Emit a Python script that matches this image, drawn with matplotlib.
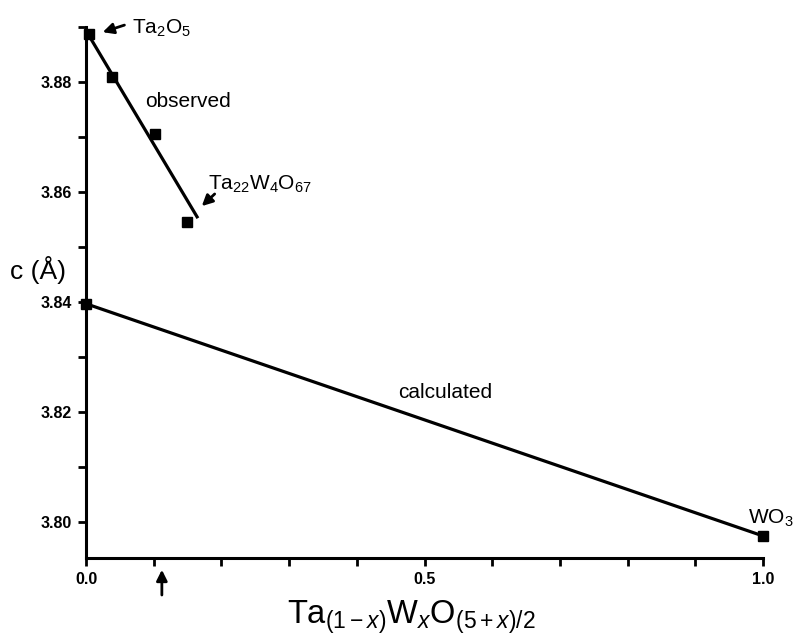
import matplotlib
matplotlib.use("Agg")
import matplotlib.pyplot as plt
from matplotlib.ticker import MultipleLocator, FixedLocator

plt.rcParams['font.family'] = ['Liberation Sans', 'DejaVu Sans']
plt.rcParams['mathtext.fontset'] = 'custom'
plt.rcParams['mathtext.rm'] = 'Liberation Sans'
plt.rcParams['mathtext.it'] = 'Liberation Sans:italic'
plt.rcParams['mathtext.bf'] = 'Liberation Sans:bold'

# observed points (Ta-rich side)
obs_x = [0.004, 0.038, 0.102, 0.149]
obs_c = [3.8887, 3.8809, 3.8705, 3.8545]
# fitted line through observed
obs_line_x = [0.003, 0.164]
obs_line_c = [3.8887, 3.8555]
# calculated (Vegard) line
calc_x = [0.0, 1.0]
calc_c = [3.8397, 3.7975]

x_major = [0.0, 0.5, 1.0]
x_minor = [0.1, 0.2, 0.3, 0.4, 0.6, 0.7, 0.8, 0.9]
y_ticks = [3.80, 3.82, 3.84, 3.86, 3.88]
arrow_x = 0.112

fig = plt.figure(figsize=(7.93, 6.35), dpi=100)
ax = fig.add_axes([0.1085, 0.1213, 0.8537, 0.8362])

ax.plot(obs_line_x, obs_line_c, color='black', lw=2.3, clip_on=False)
ax.plot(calc_x, calc_c, color='black', lw=2.3, clip_on=False)
ax.plot(obs_x, obs_c, 's', color='black', ms=7.5, clip_on=False)
ax.plot(calc_x, calc_c, 's', color='black', ms=7.5, clip_on=False, lw=0)

ax.set_xlim(0, 1.0)
ax.set_ylim(3.7935, 3.890)

for s in ['top', 'right']:
    ax.spines[s].set_visible(False)
for s in ['left', 'bottom']:
    ax.spines[s].set_linewidth(2.2)

ax.xaxis.set_major_locator(FixedLocator(x_major))
ax.xaxis.set_minor_locator(FixedLocator(x_minor))
ax.set_xticklabels(['0.0', '0.5', '1.0'])
ax.yaxis.set_major_locator(FixedLocator(y_ticks))
ax.yaxis.set_minor_locator(MultipleLocator(0.01))
ax.set_yticklabels(['3.80', '3.82', '3.84', '3.86', '3.88'])
ax.tick_params(which='both', direction='out', length=6, width=2, labelsize=11.5, pad=4)
for lab in ax.get_xticklabels() + ax.get_yticklabels():
    lab.set_fontweight('bold')

ax.text(-0.071, 0.542, 'c (Å)', transform=ax.transAxes, fontsize=19,
        ha='center', va='center')
ax.text(0.48, -0.123, r'Ta$_{(1-x)}$W$_{x}$O$_{(5+x)/2}$', transform=ax.transAxes,
        fontsize=23.5, ha='center', va='baseline')

ax.text(0.068, 3.8887, r'Ta$_2$O$_5$', fontsize=15, va='baseline')
ax.annotate('', xy=(0.0207, 3.8889), xytext=(0.0606, 3.8905), annotation_clip=False,
            arrowprops=dict(arrowstyle='-|>', color='black', lw=2, mutation_scale=16))
ax.text(0.087, 3.8755, 'observed', fontsize=15, va='baseline')
ax.text(0.180, 3.8604, r'Ta$_{22}$W$_4$O$_{67}$', fontsize=15, va='baseline')
ax.annotate('', xy=(0.168, 3.8571), xytext=(0.193, 3.8600),
            arrowprops=dict(arrowstyle='-|>', color='black', lw=2, mutation_scale=16))
ax.text(0.461, 3.8225, 'calculated', fontsize=15, va='baseline')
ax.text(0.978, 3.7998, r'WO$_3$', fontsize=15, va='baseline', clip_on=False)

# arrow under x axis marking composition
ax.annotate('', xy=(arrow_x, -0.017), xytext=(arrow_x, -0.075),
            xycoords=('data', 'axes fraction'), annotation_clip=False,
            arrowprops=dict(arrowstyle='-|>', color='black', lw=2, mutation_scale=16))

fig.savefig('out.png', dpi=100)
